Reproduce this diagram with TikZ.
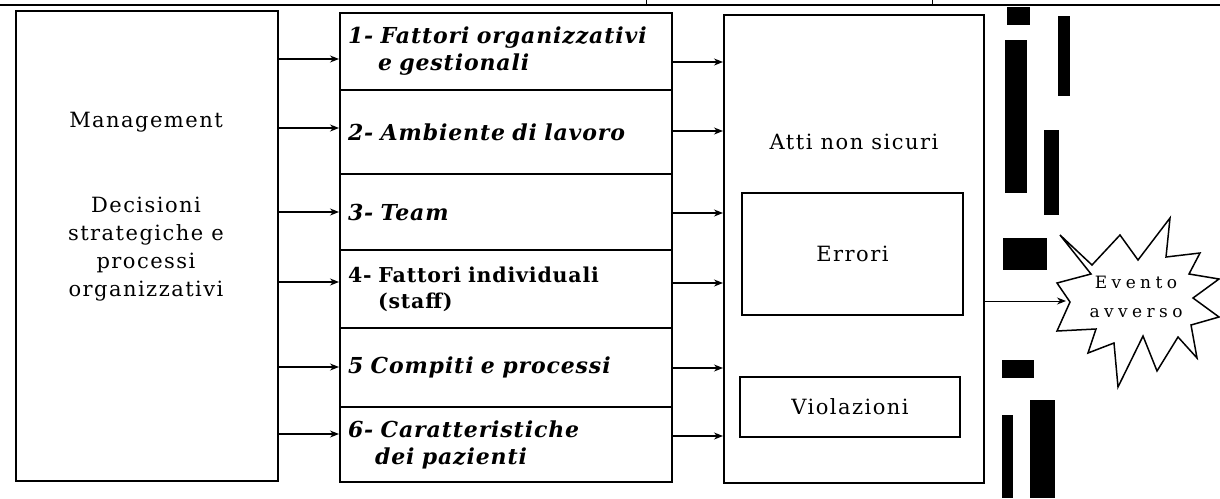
\documentclass[tikz,border=0pt]{standalone}
\usepackage{fontspec}
\setmainfont{DejaVu Serif}
\newfontfamily\widefont[LetterSpace=7]{DejaVu Serif}
\newfontfamily\facfont[LetterSpace=4]{DejaVu Serif}
\newfontfamily\starfont[LetterSpace=26]{DejaVu Serif}
\usepackage{tikz}
\usetikzlibrary{arrows.meta}
\tikzset{blk/.style={rectangle,draw,line width=2pt,inner sep=0pt}}
\tikzset{fac/.style={rectangle,draw,line width=2pt,minimum width=332pt,text width=316pt,inner sep=8pt,align=left,font=\facfont\fontsize{22}{27}\selectfont\bfseries\itshape}}
\tikzset{lbl/.style={align=center,font=\widefont\fontsize{21}{28}\selectfont}}
\tikzset{arr/.style={->,line width=1.3pt}}

\begin{document}
\begin{tikzpicture}[>={Stealth[length=9pt,width=7pt]},x=1pt,y=-1pt]
        \useasboundingbox (0,0) rectangle (1220,498);
        \draw [line width=1.6pt] (0,5) -- (1220,5);
        \draw [line width=1pt] (646,0) -- (646,5);
        \draw [line width=1pt] (932,0) -- (932,5);

        \node[blk,minimum width=262pt,minimum height=470pt] (mgmt) at (147,246) {};
        \node[lbl] (mtxt) at (146,122) {Management};
        \node[lbl] (dtxt) at (146,249) {Decisioni\\strategiche e\\processi\\organizzativi};

        \node[fac,minimum height=77pt] (f1) at (506,51.5) {1- Fattori organizzativi\\\hspace*{30pt}e gestionali};
        \node[fac,minimum height=84pt] (f2) at (506,132) {2- Ambiente di lavoro};
        \node[fac,minimum height=76pt] (f3) at (506,212) {3- Team};
        \node[fac,minimum height=78pt,font=\facfont\fontsize{20.5}{26}\selectfont\bfseries] (f4) at (506,289) {4- Fattori individuali\\\hspace*{30pt}(staff)};
        \node[fac,minimum height=79pt] (f5) at (506,367.5) {5 Compiti e processi};
        \node[fac,minimum height=75pt] (f6) at (506,444.5) {6- Caratteristiche\\\hspace*{27pt}dei pazienti};

        \node[blk,minimum width=260pt,minimum height=468pt] (acts) at (854,249) {};
        \node[lbl] (atxt) at (854,142) {Atti non sicuri};
        \node[blk,lbl,minimum width=221pt,minimum height=122pt] (err) at (852.5,254) {Errori};
        \node[blk,lbl,minimum width=220pt,minimum height=60pt] (vio) at (850,407) {Violazioni};

        \draw [arr] (mgmt.east |- 0,59) to (f1.west |- 0,59);
        \draw [arr] (mgmt.east |- 0,128) to (f2.west |- 0,128);
        \draw [arr] (mgmt.east |- 0,212) to (f3.west |- 0,212);
        \draw [arr] (mgmt.east |- 0,282) to (f4.west |- 0,282);
        \draw [arr] (mgmt.east |- 0,367) to (f5.west |- 0,367);
        \draw [arr] (mgmt.east |- 0,434) to (f6.west |- 0,434);

        \draw [arr] (f1.east |- 0,62) to (acts.west |- 0,62);
        \draw [arr] (f2.east |- 0,131) to (acts.west |- 0,131);
        \draw [arr] (f3.east |- 0,213) to (acts.west |- 0,213);
        \draw [arr] (f4.east |- 0,283) to (acts.west |- 0,283);
        \draw [arr] (f5.east |- 0,368) to (acts.west |- 0,368);
        \draw [arr] (f6.east |- 0,436) to (acts.west |- 0,436);

        \fill (1007,7) rectangle (1030,25);
        \fill (1005,40) rectangle (1027,193);
        \fill (1058,16) rectangle (1070,96);
        \fill (1044,130) rectangle (1059,215);
        \fill (1003,238) rectangle (1047,270);
        \fill (1002,360) rectangle (1034,378);
        \fill (1030,400) rectangle (1055,498);
        \fill (1002,415) rectangle (1013,498);

        \draw [line width=1.5pt,line join=miter] (1060,235) -- (1092,265) -- (1120,235) -- (1138,260) -- (1170,218) -- (1166,257) -- (1200,253) -- (1189,274) -- (1219,279) -- (1193,298) -- (1219,317) -- (1191,325) -- (1197,358) -- (1178,337) -- (1157,371) -- (1143,336) -- (1118,387) -- (1114,343) -- (1088,353) -- (1096,329) -- (1057,331) -- (1070,302) -- (1057,283) -- (1091,274) -- cycle;
        \coordinate (evin) at (1066,301);
        \node[align=center,font=\starfont\fontsize{17}{29}\selectfont] (ev) at (1136,297) {Evento\\avverso};
        \draw [arr,line width=1pt] (acts.east |- evin) to (evin);
    \end{tikzpicture}
\end{document}
